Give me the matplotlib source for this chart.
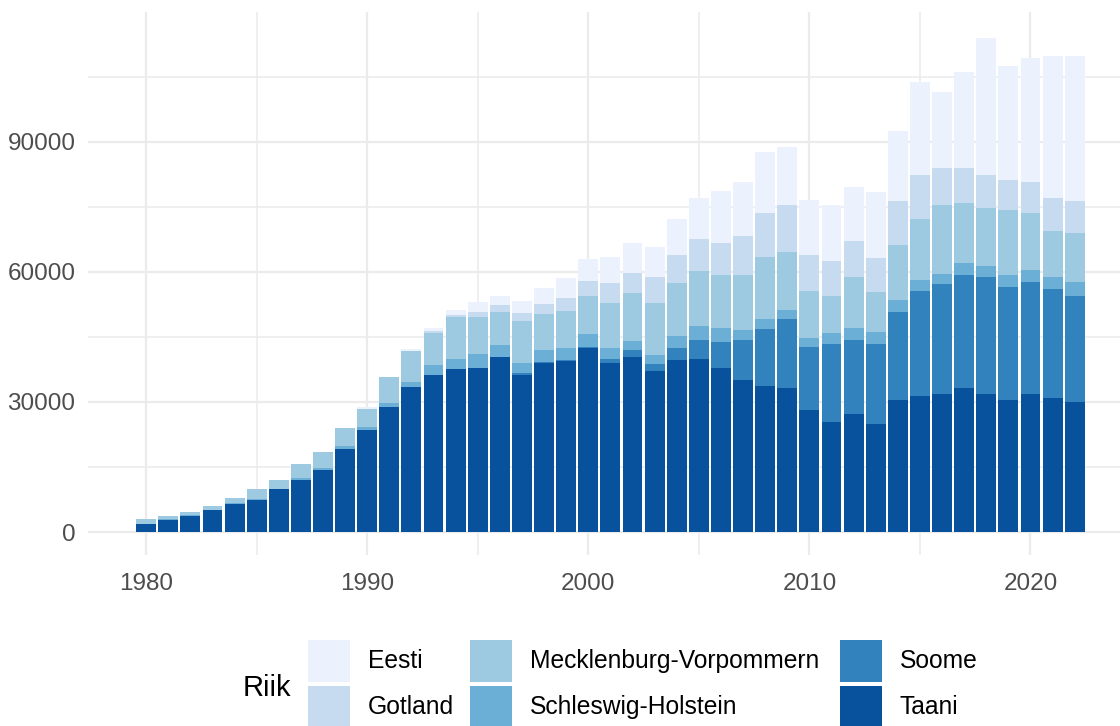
import numpy as np
import matplotlib
matplotlib.use("Agg")
import matplotlib.pyplot as plt
from matplotlib.patches import Rectangle

plt.rcParams['font.family'] = ['Liberation Sans', 'DejaVu Sans']

# ==== DATA ====
years = list(range(1980, 2023))

taani = [1800, 2825, 3765, 5055, 6490, 7430, 9810, 11940, 14320, 19075,
         23440, 28940, 33450, 36170, 37510, 37860, 40330, 36270, 39045, 39490,
         42415, 39045, 40430, 37110, 39590, 39790, 37805, 35030, 33745, 33300,
         28145, 25320, 27200, 24825, 30520, 31365, 31760, 33300, 31760, 30520,
         31760, 30870, 30075]
soome = [0, 0, 0, 0, 0, 0, 0, 0, 0, 0,
         0, 0, 0, 0, 0, 0, 0, 300, 200, 200,
         300, 900, 1440, 1540, 2825, 4560, 6095, 9315, 12980, 15755,
         14520, 18085, 17145, 18580, 20215, 24130, 25520, 25865, 26955, 25865,
         25965, 25070, 24330]
schleswig = [100, 100, 100, 100, 200, 250, 200, 600, 400, 850,
             850, 850, 1250, 2380, 2380, 3270, 2725, 2480, 2825, 2825,
             2875, 2380, 2230, 2230, 2775, 3220, 3220, 2330, 2330, 2130,
             2080, 2480, 2775, 2825, 2875, 2625, 2280, 2775, 2625, 2775,
             2775, 2775, 3220]
mecklenburg = [1000, 800, 700, 900, 1150, 2130, 1930, 3220, 3620, 3965,
               4110, 6045, 7085, 7385, 9760, 8475, 7780, 9710, 8175, 8475,
               8920, 10555, 11050, 11990, 12190, 12535, 12140, 12585, 14270, 13480,
               10750, 8620, 11595, 9215, 12485, 13975, 15755, 13825, 13280, 15065,
               12980, 10605, 11250]
gotland = [0, 0, 0, 0, 0, 0, 0, 0, 0, 0,
           0, 0, 0, 450, 400, 1140, 1540, 1735, 2380, 2875,
           3270, 4510, 4610, 5945, 6490, 7385, 7285, 8920, 10160, 10750,
           8325, 7980, 8325, 7780, 10160, 10160, 8670, 8225, 7630, 6935,
           7235, 7780, 7385]
eesti = [0, 0, 0, 0, 0, 0, 0, 0, 0, 0,
         500, 0, 400, 700, 1140, 2380, 2080, 2775, 3570, 4660,
         5200, 5945, 6790, 6890, 8325, 9610, 11990, 12585, 14220, 13380,
         12835, 12835, 12440, 15210, 16155, 21605, 17590, 22150, 31760, 26360,
         28690, 32755, 33595]

# stacking order bottom -> top
names = ["Taani", "Soome", "Schleswig-Holstein", "Mecklenburg-Vorpommern", "Gotland", "Eesti"]
series = [taani, soome, schleswig, mecklenburg, gotland, eesti]
colors = ["#08519C", "#3182BD", "#6BAED6", "#9ECAE1", "#C6DBEF", "#EBF1FD"]

# ==== PLOT ====
W, H = 1120, 726
fig = plt.figure(figsize=(W / 100, H / 100), dpi=100)
ax = fig.add_axes([88 / W, (H - 555) / H, (W - 88) / W, (555 - 12) / H])

bottom = np.zeros(len(years))
for name, vals, col in zip(names, series, colors):
    ax.bar(years, vals, width=0.9, bottom=bottom, color=col, linewidth=0, zorder=2)
    bottom += np.array(vals)

ax.set_xlim(1977.37, 2024.05)
ax.set_ylim(-5300, 119910)

ax.set_yticks([0, 30000, 60000, 90000])
ax.set_yticks([15000, 45000, 75000, 105000], minor=True)
ax.set_xticks([1980, 1990, 2000, 2010, 2020])
ax.set_xticks([1985, 1995, 2005, 2015], minor=True)
ax.grid(which='major', color='#EBEBEB', linewidth=1.6, zorder=0)
ax.grid(which='minor', color='#EBEBEB', linewidth=1.1, zorder=0)
ax.set_axisbelow(True)
for s in ax.spines.values():
    s.set_visible(False)
ax.tick_params(which='both', length=0)
ax.tick_params(axis='y', labelsize=17.5, labelcolor='#4D4D4D', pad=9)
ax.tick_params(axis='x', labelsize=17.5, labelcolor='#4D4D4D', pad=13)

# ==== LEGEND (bottom, 3 columns x 2 rows) ====
legend_order = ["Eesti", "Gotland", "Mecklenburg-Vorpommern", "Schleswig-Holstein", "Soome", "Taani"]
col_x = [308, 470, 840]
row_top = [640, 686]
key = 42
fig.text(243 / W, 1 - 688 / H, "Riik", fontsize=21, color='black', va='center', ha='left')
for i, lab in enumerate(legend_order):
    c, r = i // 2, i % 2
    col = colors[names.index(lab)]
    x0, y0 = col_x[c], row_top[r]
    fig.patches.append(Rectangle((x0 / W, 1 - (y0 + key) / H), key / W, key / H,
                                 transform=fig.transFigure, facecolor=col, edgecolor='none'))
    fig.text((x0 + key + 18) / W, 1 - (y0 + key / 2) / H, lab, fontsize=17.7,
             color='black', va='center', ha='left')

plt.savefig("out.png", dpi=100)
plt.close()
